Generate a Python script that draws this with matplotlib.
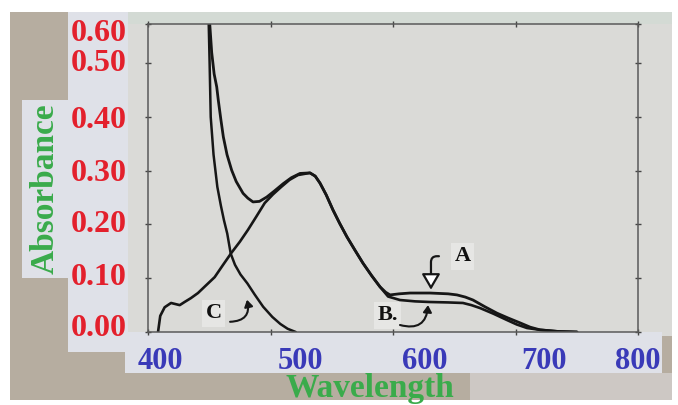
import matplotlib
matplotlib.use('Agg')
import matplotlib.pyplot as plt
import matplotlib.transforms as mtransforms
from matplotlib.patches import Rectangle

# curve values (wavelength, absorbance)
wl_a = [449.5, 450.5, 452.0, 454.0, 456.1, 457.4, 459.5, 461.5, 464.5, 468.3, 472.0, 477.6, 481.5, 485.7,
        491.0, 496.9, 503.0, 510.4, 517.0, 524.1, 532.2, 536.5, 540.4, 545.5, 551.0, 556.5, 562.4, 569.0,
        575.5, 582.5, 589.4, 594.0, 597.6, 605.0, 613.9, 630.2, 645.0, 652.2, 659.0, 665.3, 675.0, 684.9,
        694.0, 703.7, 712.0, 720.0, 735.0, 750.2]
abs_a = [0.60, 0.57, 0.52, 0.48, 0.456, 0.431, 0.395, 0.363, 0.33, 0.301, 0.28, 0.258, 0.249, 0.242,
         0.243, 0.251, 0.262, 0.276, 0.287, 0.295, 0.296, 0.29, 0.277, 0.255, 0.227, 0.202, 0.177, 0.152,
         0.128, 0.105, 0.084, 0.074, 0.069, 0.071, 0.0725, 0.0725, 0.071, 0.069, 0.065, 0.0595, 0.047, 0.035,
         0.026, 0.017, 0.009, 0.004, 0.001, 0.0]

wl_b = [408.2, 410.0, 413.6, 418.8, 425.9, 430.0, 435.0, 440.8, 447.0, 454.4, 461.0, 468.0, 475.0, 481.6,
        488.5, 495.3, 502.0, 508.8, 515.5, 522.4, 532.2, 536.5, 540.4, 545.5, 551.0, 556.5, 562.4, 569.0,
        575.5, 582.5, 589.4, 596.0, 605.7, 618.0, 630.2, 645.0, 657.1, 664.0, 671.0, 682.0, 693.0, 701.0,
        709.4, 720.0, 735.0, 750.2]
abs_b = [0.0, 0.03, 0.046, 0.054, 0.05, 0.056, 0.063, 0.0725, 0.086, 0.102, 0.124, 0.147, 0.168, 0.19,
         0.215, 0.24, 0.256, 0.27, 0.283, 0.292, 0.296, 0.29, 0.277, 0.255, 0.227, 0.202, 0.177, 0.152,
         0.128, 0.105, 0.084, 0.066, 0.0595, 0.057, 0.0558, 0.055, 0.054, 0.05, 0.0446, 0.034, 0.0223, 0.014,
         0.0074, 0.004, 0.001, 0.0]

wl_c = [449.3, 450.3, 451.2, 453.5, 456.6, 459.5, 462.0, 464.7, 467.5, 471.0, 475.5, 481.1, 487.0, 494.0,
        501.5, 508.0, 514.0, 520.6]
abs_c = [0.60, 0.50, 0.40, 0.33, 0.27, 0.235, 0.208, 0.183, 0.146, 0.125, 0.107, 0.0905, 0.07, 0.047,
         0.028, 0.015, 0.006, 0.0]

x_ticks = [400, 500, 600, 700, 800]
y_ticks = [0.0, 0.1, 0.2, 0.3, 0.4, 0.5, 0.573]
y_labels = ['0.00', '0.10', '0.20', '0.30', '0.40', '0.50', '0.60']
# the pasted-on labels of the photo sit a bit off the printed ticks (pixels)
x_label_shift = [12, 30, 32, 28, 0]
y_label_shift = [7, 4, 3, 1, 0, 3, -6]

W, H = 678, 405
serif = 'Liberation Serif'

fig = plt.figure(figsize=(W / 100, H / 100), dpi=100, facecolor='white')


def box(x0, y0, x1, y1, color, z=-5):
    r = Rectangle((x0 / W, 1 - y1 / H), (x1 - x0) / W, (y1 - y0) / H,
                  transform=fig.transFigure, facecolor=color, edgecolor='none', zorder=z)
    fig.add_artist(r)


# photo background, paper and label boxes
box(10, 12, 672, 400, '#b6ad a0'.replace(' ', ''), -9)
box(128, 12, 672, 336, '#dadad7', -8)
box(128, 12, 672, 24, '#d3dad4', -7)
box(470, 373, 672, 400, '#cdc8c4', -7)
box(68, 12, 128, 352, '#dfe1e8', -6)
box(125, 332, 662, 373, '#dfe1e8', -6)
box(22, 100, 68, 278, '#dfe1e8', -6)

ax = fig.add_axes([148 / W, 1 - 332 / H, 490 / W, 308 / H])
ax.set_facecolor('none')

lc = '#161616'
ax.plot(wl_c, abs_c, color=lc, lw=1.8, solid_capstyle='round')
ax.plot(wl_b, abs_b, color=lc, lw=1.9, solid_capstyle='round')
ax.plot(wl_a, abs_a, color=lc, lw=2.0, solid_capstyle='round')

ax.set_xlim(400, 800)
ax.set_ylim(0, 0.573)
ax.set_xticks(x_ticks)
ax.set_yticks(y_ticks)
ax.set_yticklabels(y_labels)

for s in ax.spines.values():
    s.set_color('#5a5a5a')
    s.set_linewidth(1.1)

ax.tick_params(direction='inout', length=5, width=1, color='#444444',
               top=True, right=True)
ax.tick_params(axis='x', pad=8, labelcolor='#3a3ab8', labelsize=22)
ax.tick_params(axis='y', pad=13, labelcolor='#e3202c', labelsize=23)
for t in ax.get_xticklabels() + ax.get_yticklabels():
    t.set_fontfamily(serif)
    t.set_fontweight('bold')

for t, dx in zip(ax.get_xticklabels(), x_label_shift):
    t.set_transform(t.get_transform() + mtransforms.ScaledTranslation(dx / 100, 0, fig.dpi_scale_trans))
for t, dy in zip(ax.get_yticklabels(), y_label_shift):
    t.set_transform(t.get_transform() + mtransforms.ScaledTranslation(0, dy / 100, fig.dpi_scale_trans))

# curve labels with hooked arrows
lab = dict(fontsize=16, fontweight='bold', fontfamily=serif, color='#111111', ha='center', va='center',
           bbox=dict(boxstyle='square,pad=0.15', fc='#e6e6e4', ec='none'))
ax.annotate('A', xy=(631, 0.076), xytext=(657, 0.141),
            arrowprops=dict(arrowstyle='-|>,head_width=0.35,head_length=0.6', fc='white', ec=lc, lw=1.6,
                            connectionstyle='angle,angleA=0,angleB=90,rad=6', shrinkA=9, shrinkB=1),
            annotation_clip=False, **lab)
ax.text(595.5, 0.031, 'B.', **lab)
ax.text(453.5, 0.035, 'C', **lab)

hook = dict(arrowstyle='-|>,head_width=0.25,head_length=0.4', fc=lc, ec=lc, lw=1.5,
            connectionstyle='arc3,rad=0.6', shrinkA=0, shrinkB=0)
ax.annotate('', xy=(480.8, 0.06), xytext=(467.0, 0.019), arrowprops=hook, annotation_clip=False)
ax.annotate('', xy=(628.6, 0.05), xytext=(605.7, 0.013), arrowprops=hook, annotation_clip=False)

fig.text(45 / W, 1 - 189 / H, 'Absorbance', rotation=90, ha='center', va='center',
         fontsize=24, fontweight='bold', fontfamily=serif, color='#3aab4b')
fig.text(370 / W, 1 - 389 / H, 'Wavelength', ha='center', va='center',
         fontsize=24, fontweight='bold', fontfamily=serif, color='#3aab4b')

plt.savefig('out.png', dpi=100, facecolor=fig.get_facecolor())
